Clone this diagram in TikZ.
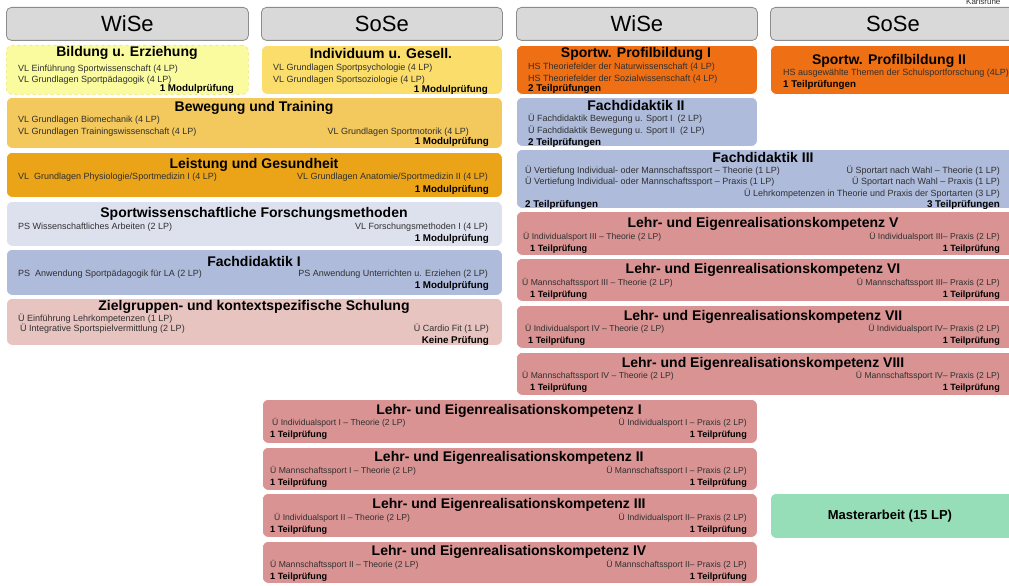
\documentclass[tikz,border=0pt]{standalone}
\usepackage{fontspec}
\setmainfont{Liberation Sans}
\definecolor{hdr}{HTML}{D9D9D9}
\definecolor{hdrline}{HTML}{8C8C8C}
\definecolor{cBild}{HTML}{FAFA9E}
\definecolor{cBildLine}{HTML}{EDED8A}
\definecolor{cIndiv}{HTML}{FADD6B}
\definecolor{cBeweg}{HTML}{F3C85C}
\definecolor{cLeist}{HTML}{EBA417}
\definecolor{cForsch}{HTML}{DDE1EE}
\definecolor{cFD}{HTML}{AEBBDB}
\definecolor{cZiel}{HTML}{E7C4C0}
\definecolor{cProf}{HTML}{EF7014}
\definecolor{cLEK}{HTML}{D99393}
\definecolor{cMaster}{HTML}{96DEB8}
\definecolor{txt}{HTML}{303030}
\tikzset{
  box/.style={rounded corners=6pt, draw=white, line width=0.8pt, inner sep=0pt, anchor=north west},
  hbox/.style={rounded corners=5pt, draw=hdrline, fill=hdr, line width=0.8pt, inner sep=0pt, anchor=north west, font=\fontsize{22}{24}\selectfont},
  ttl/.style={font=\bfseries\fontsize{14}{16}\selectfont, anchor=base, inner sep=0pt},
  sub/.style={font=\fontsize{9}{10}\selectfont, text=txt, inner sep=0pt},
  lsub/.style={font=\fontsize{8.6}{9}\selectfont, text=txt, inner sep=0pt},
  exm/.style={font=\bfseries\fontsize{9.8}{11}\selectfont, inner sep=0pt},
  lexm/.style={font=\bfseries\fontsize{9.1}{10}\selectfont, inner sep=0pt},
}
\newcommand\mkbox[7][]{\node[box,fill=#3,minimum width={#6pt-#4pt},minimum height={#7pt-#5pt},#1] (#2) at (#4,#5) {};}
\begin{document}
\begin{tikzpicture}[x=1pt,y=-1pt]
\useasboundingbox (0,0) rectangle (1009,586);
% corner label
\node[font=\fontsize{8}{9}\selectfont, text=txt, anchor=base west, inner sep=0pt] (ka) at (966,4.5) {Karlsruhe};
% headers
\node[hbox, minimum width=242pt, minimum height=33pt] (h1) at (6,7) {WiSe};
\node[hbox, minimum width=241pt, minimum height=33pt] (h2) at (261,7) {SoSe};
\node[hbox, minimum width=241pt, minimum height=33pt] (h3) at (516,7) {WiSe};
\node[hbox, minimum width=245pt, minimum height=33pt] (h4) at (770,7) {SoSe};

% ===== left column =====
\mkbox[draw=cBildLine,dashed]{bild}{cBild}{6}{45}{248}{94}
\node[ttl] (bild-t) at (127,57) {Bildung u. Erziehung};
\node[sub,anchor=base west] (bild-1) at (18,71) {VL Einführung Sportwissenschaft (4 LP)};
\node[sub,anchor=base west] (bild-2) at (18,82) {VL Grundlagen Sportpädagogik (4 LP)};
\node[exm,anchor=base east] (bild-e) at (234,92) {1 Modulprüfung};

\mkbox{indiv}{cIndiv}{261}{45}{502}{94}
\node[ttl] (indiv-t) at (381,59) {Individuum u. Gesell.};
\node[sub,anchor=base west] (indiv-1) at (273,70.5) {VL Grundlagen Sportpsychologie (4 LP)};
\node[sub,anchor=base west] (indiv-2) at (273,82.5) {VL Grundlagen Sportsoziologie (4 LP)};
\node[exm,anchor=base east] (indiv-e) at (488,92.5) {1 Modulprüfung};

\mkbox{beweg}{cBeweg}{6}{97}{502}{148}
\node[ttl] (beweg-t) at (254,111) {Bewegung und Training};
\node[sub,anchor=base west] (beweg-1) at (18,122) {VL Grundlagen Biomechanik (4 LP)};
\node[sub,anchor=base west] (beweg-2) at (18,134) {VL Grundlagen Trainingswissenschaft (4 LP)};
\node[sub,anchor=base east] (beweg-3) at (469,134) {VL Grundlagen Sportmotorik (4 LP)};
\node[exm,anchor=base east] (beweg-e) at (489,144.5) {1 Modulprüfung};

\mkbox{leist}{cLeist}{6}{152}{502}{197}
\node[ttl] (leist-t) at (254,168) {Leistung und Gesundheit};
\node[sub,anchor=base west] (leist-1) at (18,179) {VL\ \ Grundlagen Physiologie/Sportmedizin I (4 LP)};
\node[sub,anchor=base east] (leist-2) at (488,179) {VL Grundlagen Anatomie/Sportmedizin II (4 LP)};
\node[exm,anchor=base east] (leist-e) at (489,192) {1 Modulprüfung};

\mkbox{forsch}{cForsch}{6}{201}{502}{246}
\node[ttl] (forsch-t) at (254,217) {Sportwissenschaftliche Forschungsmethoden};
\node[sub,anchor=base west] (forsch-1) at (18,229) {PS Wissenschaftliches Arbeiten (2 LP)};
\node[sub,anchor=base east] (forsch-2) at (488,229) {VL Forschungsmethoden I (4 LP)};
\node[exm,anchor=base east] (forsch-e) at (489,241.5) {1 Modulprüfung};

\mkbox{fd1}{cFD}{6}{249}{502}{295}
\node[ttl] (fd1-t) at (254,266) {Fachdidaktik I};
\node[sub,anchor=base west] (fd1-1) at (18,276) {PS\ \ Anwendung Sportpädagogik für LA (2 LP)};
\node[sub,anchor=base east] (fd1-2) at (488,276) {PS Anwendung Unterrichten u. Erziehen (2 LP)};
\node[exm,anchor=base east] (fd1-e) at (489,288) {1 Modulprüfung};

\mkbox{ziel}{cZiel}{6}{298}{502}{345}
\node[ttl] (ziel-t) at (254,310) {Zielgruppen- und kontextspezifische Schulung};
\node[sub,anchor=base west] (ziel-1) at (18,321) {Ü Einführung Lehrkompetenzen (1 LP)};
\node[sub,anchor=base west] (ziel-2) at (20,331.5) {Ü Integrative Sportspielvermittlung (2 LP)};
\node[sub,anchor=base east] (ziel-3) at (489,331.5) {Ü Cardio Fit (1 LP)};
\node[exm,anchor=base east] (ziel-e) at (489,343) {Keine Prüfung};

% ===== right columns =====
\mkbox{prof1}{cProf}{516}{45}{757}{94}
\node[ttl] (prof1-t) at (636,58) {Sportw. Profilbildung I};
\node[sub,anchor=base west] (prof1-1) at (528,70) {HS Theoriefelder der Naturwissenschaft (4 LP)};
\node[sub,anchor=base west] (prof1-2) at (528,81.5) {HS Theoriefelder der Sozialwissenschaft (4 LP)};
\node[exm,anchor=base west] (prof1-e) at (528,92) {2 Teilprüfungen};

\mkbox{prof2}{cProf}{770}{45}{1015}{94}
\node[ttl] (prof2-t) at (889,64) {Sportw. Profilbildung II};
\node[sub,anchor=base west] (prof2-1) at (783,76) {HS ausgewählte Themen der Schulsportforschung (4LP)};
\node[exm,anchor=base west] (prof2-e) at (783,87) {1 Teilprüfungen};

\mkbox{fd2}{cFD}{516}{97}{757}{146}
\node[ttl] (fd2-t) at (636,110) {Fachdidaktik II};
\node[sub,anchor=base west] (fd2-1) at (528,121.5) {Ü Fachdidaktik Bewegung u. Sport I\ \ (2 LP)};
\node[sub,anchor=base west] (fd2-2) at (528,133) {Ü Fachdidaktik Bewegung u. Sport II\ \ (2 LP)};
\node[exm,anchor=base west] (fd2-e) at (528,145) {2 Teilprüfungen};

\mkbox{fd3}{cFD}{516}{149}{1015}{208}
\node[ttl] (fd3-t) at (763,162) {Fachdidaktik III};
\node[sub,anchor=base west] (fd3-1) at (525,173.5) {Ü Vertiefung Individual- oder Mannschaftssport – Theorie (1 LP)};
\node[sub,anchor=base west] (fd3-2) at (525,184.5) {Ü Vertiefung Individual- oder Mannschaftssport – Praxis (1 LP)};
\node[sub,anchor=base east] (fd3-3) at (1000,173.5) {Ü Sportart nach Wahl – Theorie (1 LP)};
\node[sub,anchor=base east] (fd3-4) at (1000,184.5) {Ü Sportart nach Wahl – Praxis (1 LP)};
\node[sub,anchor=base east] (fd3-5) at (1000,196) {Ü Lehrkompetenzen in Theorie und Praxis der Sportarten (3 LP)};
\node[exm,anchor=base west] (fd3-e1) at (525,207) {2 Teilprüfungen};
\node[exm,anchor=base east] (fd3-e2) at (1000,207) {3 Teilprüfungen};

% LEK V - VIII
\mkbox{lek5}{cLEK}{516}{211}{1015}{255}
\node[ttl] (lek5-t) at (763,227) {Lehr- und Eigenrealisationskompetenz V};
\node[lsub,anchor=base west] (lek5-1) at (523,239) {Ü Individualsport III – Theorie (2 LP)};
\node[lsub,anchor=base east] (lek5-2) at (1000,239) {Ü Individualsport III– Praxis (2 LP)};
\node[lexm,anchor=base west] (lek5-e1) at (530,251) {1 Teilprüfung};
\node[lexm,anchor=base east] (lek5-e2) at (1000,251) {1 Teilprüfung};

\mkbox{lek6}{cLEK}{516}{258}{1015}{301}
\node[ttl] (lek6-t) at (763,273) {Lehr- und Eigenrealisationskompetenz VI};
\node[lsub,anchor=base west] (lek6-1) at (522,285) {Ü Mannschaftssport III – Theorie (2 LP)};
\node[lsub,anchor=base east] (lek6-2) at (1000,285) {Ü Mannschaftssport III– Praxis (2 LP)};
\node[lexm,anchor=base west] (lek6-e1) at (530,297) {1 Teilprüfung};
\node[lexm,anchor=base east] (lek6-e2) at (1000,297) {1 Teilprüfung};

\mkbox{lek7}{cLEK}{516}{305}{1015}{348}
\node[ttl] (lek7-t) at (763,320) {Lehr- und Eigenrealisationskompetenz VII};
\node[lsub,anchor=base west] (lek7-1) at (525,331.5) {Ü Individualsport IV – Theorie (2 LP)};
\node[lsub,anchor=base east] (lek7-2) at (1000,331.5) {Ü Individualsport IV– Praxis (2 LP)};
\node[lexm,anchor=base west] (lek7-e1) at (528,343.5) {1 Teilprüfung};
\node[lexm,anchor=base east] (lek7-e2) at (1000,343.5) {1 Teilprüfung};

\mkbox{lek8}{cLEK}{516}{352}{1015}{395}
\node[ttl] (lek8-t) at (763,367) {Lehr- und Eigenrealisationskompetenz VIII};
\node[lsub,anchor=base west] (lek8-1) at (522,378.5) {Ü Mannschaftssport IV – Theorie (2 LP)};
\node[lsub,anchor=base east] (lek8-2) at (1000,378.5) {Ü Mannschaftssport IV– Praxis (2 LP)};
\node[lexm,anchor=base west] (lek8-e1) at (530,390.5) {1 Teilprüfung};
\node[lexm,anchor=base east] (lek8-e2) at (1000,390.5) {1 Teilprüfung};

% LEK I - IV
\mkbox{lek1}{cLEK}{262}{399}{757}{443}
\node[ttl] (lek1-t) at (509,414) {Lehr- und Eigenrealisationskompetenz I};
\node[lsub,anchor=base west] (lek1-1) at (272,425.5) {Ü Individualsport I – Theorie (2 LP)};
\node[lsub,anchor=base east] (lek1-2) at (747,425.5) {Ü Individualsport I – Praxis (2 LP)};
\node[lexm,anchor=base west] (lek1-e1) at (270,437.5) {1 Teilprüfung};
\node[lexm,anchor=base east] (lek1-e2) at (747,437.5) {1 Teilprüfung};

\mkbox{lek2}{cLEK}{262}{447}{757}{490}
\node[ttl] (lek2-t) at (509,461.5) {Lehr- und Eigenrealisationskompetenz II};
\node[lsub,anchor=base west] (lek2-1) at (270,473) {Ü Mannschaftssport I – Theorie (2 LP)};
\node[lsub,anchor=base east] (lek2-2) at (747,473) {Ü Mannschaftssport I – Praxis (2 LP)};
\node[lexm,anchor=base west] (lek2-e1) at (270,485) {1 Teilprüfung};
\node[lexm,anchor=base east] (lek2-e2) at (747,485) {1 Teilprüfung};

\mkbox{lek3}{cLEK}{262}{493}{757}{537}
\node[ttl] (lek3-t) at (509,508.5) {Lehr- und Eigenrealisationskompetenz III};
\node[lsub,anchor=base west] (lek3-1) at (274,520) {Ü Individualsport II – Theorie (2 LP)};
\node[lsub,anchor=base east] (lek3-2) at (747,520) {Ü Individualsport II– Praxis (2 LP)};
\node[lexm,anchor=base west] (lek3-e1) at (270,532) {1 Teilprüfung};
\node[lexm,anchor=base east] (lek3-e2) at (747,532) {1 Teilprüfung};

\mkbox{lek4}{cLEK}{262}{541}{757}{583}
\node[ttl] (lek4-t) at (509,555.5) {Lehr- und Eigenrealisationskompetenz IV};
\node[lsub,anchor=base west] (lek4-1) at (270,567) {Ü Mannschaftssport II – Theorie (2 LP)};
\node[lsub,anchor=base east] (lek4-2) at (747,567) {Ü Mannschaftssport II– Praxis (2 LP)};
\node[lexm,anchor=base west] (lek4-e1) at (270,579) {1 Teilprüfung};
\node[lexm,anchor=base east] (lek4-e2) at (747,579) {1 Teilprüfung};

% Masterarbeit
\node[box, fill=cMaster, minimum width=245pt, minimum height=45pt, font=\bfseries\fontsize{13}{15}\selectfont] (master) at (770,493) {\hspace*{-6pt}Masterarbeit (15 LP)};
\end{tikzpicture}
\end{document}
